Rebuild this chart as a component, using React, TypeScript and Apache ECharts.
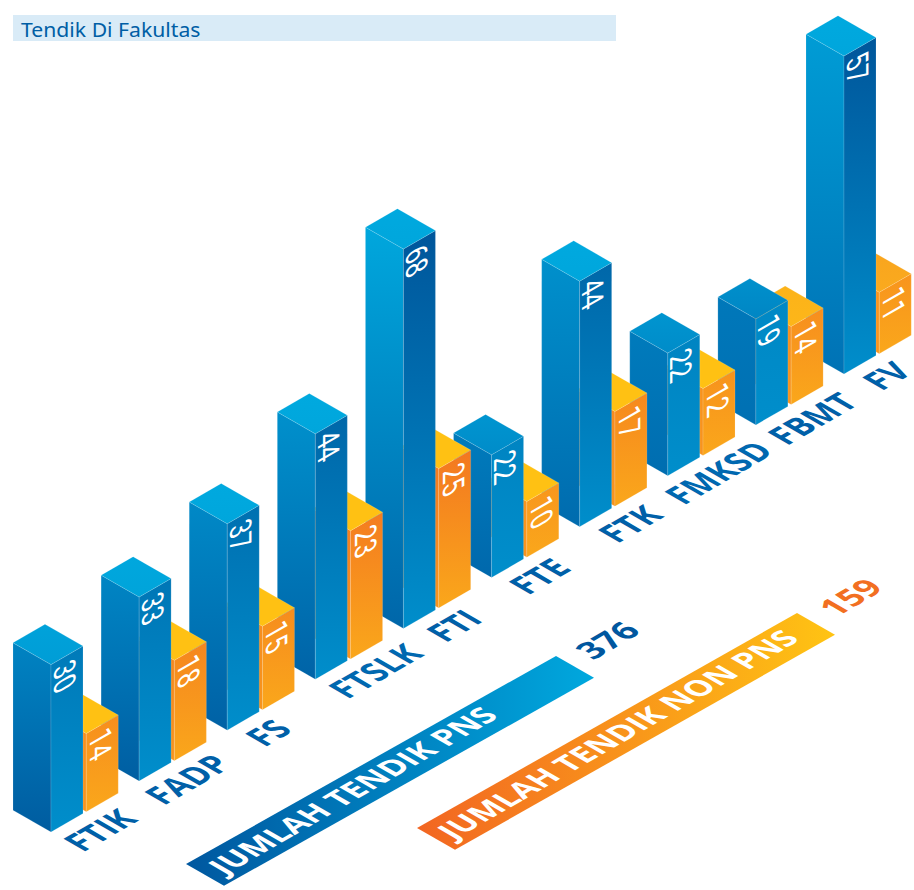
import React, { useEffect, useRef } from "react";
import * as echarts from "echarts";

const categories = ["FTIK", "FADP", "FS", "FTSLK", "FTI", "FTE", "FTK", "FMKSD", "FBMT", "FV"];
const pnsValues = [30, 33, 37, 44, 68, 22, 44, 22, 19, 57];
const nonPnsValues = [14, 18, 15, 23, 25, 10, 17, 12, 14, 11];
const totalLabels = ["JUMLAH TENDIK PNS", "JUMLAH TENDIK NON PNS"];
const totalValues = [376, 159];
const title = "Tendik Di Fakultas";

const W = 914;
const H = 890;
const X0 = 51;
const X9 = 844;
const Y0 = 832;
const Y9 = 374;
const RISE = (Y0 - Y9) / (X9 - X0);
const A = [38, 21.8];
const B = [32, -18.5];
const ISO = Math.PI / 6;
const NUM_FONT = "Roboto";
const BOLD_FONT = "'Open Sans'";
const LABEL_NUDGE = [-1.5, -2, -9.5, 9.5, 0, -2.5, 0, 0.5, 6, -8];

function hex(c: string) {
  return [1, 3, 5].map((k) => parseInt(c.slice(k, k + 2), 16));
}
function mix(a: string, b: string, t: number) {
  const u = Math.max(0, Math.min(1, t));
  const ca = hex(a);
  const cb = hex(b);
  return "rgb(" + ca.map((v, k) => Math.round(v + (cb[k] - v) * u)).join(",") + ")";
}
function grad(x2: number, y2: number, c0: string, c1: string) {
  return new echarts.graphic.LinearGradient(0, 0, x2, y2, [
    { offset: 0, color: c0 },
    { offset: 1, color: c1 },
  ]);
}
const EDGE = "rgba(255,255,255,0.28)";

function face(points: number[][], fill: any, z2: number) {
  return { type: "polygon", z2, shape: { points }, style: { fill, stroke: EDGE, lineWidth: 0.5 } };
}

function barItem(kind: "blue" | "orange") {
  return (_params: any, api: any) => {
    const i = api.value(0);
    const v = api.value(1);
    const shift = kind === "orange" ? 0.4 : 0;
    const c = api.coord([i + shift, 0]);
    const h = api.size([0, v])[1];
    const fx = c[0];
    const fy = c[1] - (c[0] - api.coord([0, 0])[0]) * RISE;
    const topF = [fx, fy - h];
    const botF = [fx, fy];
    const topL = [fx - A[0], fy - h - A[1]];
    const botL = [fx - A[0], fy - A[1]];
    const topR = [fx + B[0], fy - h + B[1]];
    const botR = [fx + B[0], fy + B[1]];
    const topB = [topL[0] + B[0], topL[1] + B[1]];
    let leftFill, rightFill, topFill, numOff;
    if (kind === "blue") {
      leftFill = grad(0, 1, mix("#0078ba", "#00a7dd", (v - 19) / 49), mix("#005ca0", "#0072b5", i / 9));
      rightFill = grad(0, 1, mix("#0088c5", "#00569b", (v - 19) / 38), "#008ecb");
      const tc = mix("#0086c4", "#00a6dc", (v - 19) / 15);
      const tc2 = mix("#0090cc", "#00a9df", (v - 19) / 15);
      topFill = grad(0, 1, tc2, tc);
      numOff = [13, 12];
    } else {
      const rt = mix("#f8961d", "#f37820", (v - 10) / 15);
      rightFill = grad(0, 1, rt, "#faa71b");
      leftFill = grad(0, 1, rt, "#f7941e");
      const y1 = mix("#ffc113", "#f9a51e", (i - 7) / 2);
      const y2 = mix("#ffc113", "#faaa1e", (i - 7) / 2);
      topFill = grad(0, 1, y1, y2);
      numOff = [14.5, 11];
    }
    const base = (9 - i) * 10 + (kind === "blue" ? 5 : 0);
    return {
      type: "group",
      children: [
        face([topL, topF, botF, botL], leftFill, base),
        face([topF, topR, botR, botF], rightFill, base),
        face([topL, topB, topR, topF], topFill, base),
        {
          type: "text",
          z2: base + 1,
          x: topF[0] + numOff[0],
          y: topF[1] + numOff[1],
          rotation: -Math.PI / 2,
          skewX: ISO,
          scaleX: 0.82,
          scaleY: 1,
          style: {
            text: String(v),
            fill: "#fff",
            fontFamily: NUM_FONT,
            fontWeight: 400,
            fontSize: 30,
            align: "center",
            verticalAlign: "middle",
          },
        },
        ...(kind === "blue"
          ? [
              {
                type: "text",
                z2: 200,
                x: fx + 50 + LABEL_NUDGE[i],
                y: fy - 3 - LABEL_NUDGE[i] * RISE,
                rotation: ISO,
                skewX: ISO,
                scaleX: 0.88,
                scaleY: 0.866,
                style: {
                  text: categories[i],
                  fontFamily: BOLD_FONT,
                  fontWeight: 700,
                  fontSize: 35,
                  align: "center",
                  verticalAlign: "middle",
                  fill: i === 3 || i === 7 ? "#0068b0" : "#0060a8",
                },
              },
            ]
          : []),
      ],
    };
  };
}

const BANNERS = [
  { l: [186, 864], len: [370, -208], c0: "#00579f", c1: "#00a8de", tx: [352, 790], num: [607, 640], numFill: "#00579f" },
  { l: [417, 828], len: [380, -215], c0: "#f26522", c1: "#ffc413", tx: [617, 734], num: [850, 597], numFill: "#f26f21" },
];

function totalItem(_params: any, api: any) {
  const k = api.value(0);
  const b = BANNERS[k];
  const p0 = b.l;
  const p1 = [p0[0] + A[0], p0[1] + A[1]];
  const p3 = [p0[0] + b.len[0], p0[1] + b.len[1]];
  const p2 = [p3[0] + A[0], p3[1] + A[1]];
  const common = { rotation: ISO, skewX: ISO, scaleY: 0.866 };
  return {
    type: "group",
    children: [
      { type: "polygon", z2: 300, shape: { points: [p0, p1, p2, p3] }, style: { fill: grad(1, 0, b.c0, b.c1) } },
      {
        type: "text",
        z2: 301,
        x: b.tx[0],
        y: b.tx[1],
        ...common,
        style: {
          text: totalLabels[k],
          fill: "#fff",
          fontFamily: BOLD_FONT,
          fontWeight: 700,
          fontSize: 31,
          align: "center",
          verticalAlign: "middle",
        },
      },
      {
        type: "text",
        z2: 301,
        x: b.num[0],
        y: b.num[1],
        ...common,
        style: {
          text: String(api.value(1)),
          fill: b.numFill,
          fontFamily: BOLD_FONT,
          fontWeight: 700,
          fontSize: 33,
          align: "center",
          verticalAlign: "middle",
        },
      },
    ],
  };
}

export default function App() {
  const ref = useRef<HTMLDivElement>(null);
  useEffect(() => {
    const chart = echarts.init(ref.current!, undefined, { renderer: "svg" });
    chart.setOption({
      animation: false,
      backgroundColor: "#fff",
      grid: { left: X0, right: W - X9, top: Y0 - 558, bottom: H - Y0, containLabel: false },
      xAxis: { type: "value", min: 0, max: 9, show: false },
      yAxis: { type: "value", min: 0, max: 100, show: false },
      graphic: [
        { type: "rect", shape: { x: 13, y: 15, width: 603, height: 26 }, style: { fill: "#d9ebf7" } },
        {
          type: "text",
          x: 21,
          y: 29,
          scaleX: 1.06,
          style: {
            text: title,
            fill: "#005ea5",
            fontFamily: "'Noto Sans'",
            fontSize: 20,
            verticalAlign: "middle",
          },
        },
      ],
      series: [
        {
          type: "custom",
          name: "Tendik PNS",
          renderItem: barItem("blue"),
          encode: { x: 0, y: 1 },
          data: pnsValues.map((v, i) => [i, v]),
        },
        {
          type: "custom",
          name: "Tendik Non PNS",
          renderItem: barItem("orange"),
          encode: { x: 0, y: 1 },
          data: nonPnsValues.map((v, i) => [i, v]),
        },
        {
          type: "custom",
          name: "Jumlah",
          renderItem: totalItem,
          encode: { x: 0, y: 1 },
          data: totalValues.map((v, i) => [i, v]),
        },
      ],
    });
    return () => chart.dispose();
  }, []);
  return <div ref={ref} style={{ position: "absolute", left: 0, top: 0, width: W, height: H }} />;
}
